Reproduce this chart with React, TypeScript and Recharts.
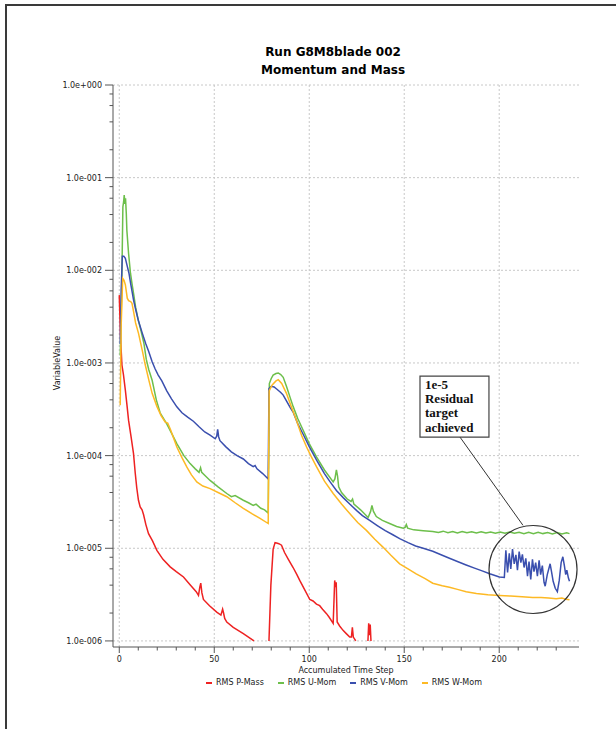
import { LineChart, Line, XAxis, YAxis, CartesianGrid, ReferenceDot, ReferenceArea, ReferenceLine } from 'recharts';

// x ticks every 10 steps, labelled every 50
const X_TICKS = [0, 10, 20, 30, 40, 50, 60, 70, 80, 90, 100, 110, 120, 130, 140, 150, 160, 170, 180, 190, 200, 210, 220, 230];
const X_GRID = [0, 50, 100, 150, 200];
const Y_MAJOR = [1e-6, 1e-5, 1e-4, 1e-3, 1e-2, 1e-1, 1];
const Y_TICKS = [
  1e-6, 2e-6, 4e-6, 6e-6, 8e-6, 1e-5, 2e-5, 4e-5, 6e-5, 8e-5, 1e-4, 2e-4, 4e-4, 6e-4, 8e-4,
  1e-3, 2e-3, 4e-3, 6e-3, 8e-3, 1e-2, 2e-2, 4e-2, 6e-2, 8e-2, 1e-1, 2e-1, 4e-1, 6e-1, 8e-1, 1,
];

const P_MASS_X = [
  0, 0.6, 1.4, 2.2, 3.2, 4.0, 4.9, 6.2, 7.5, 8.4, 9.2, 10.1, 11.0, 12.0, 12.8, 14.0, 15.4, 17.5, 19.8, 23.0,
  26.8, 30.0, 33.8, 37.5, 40.5, 41.7, 42.4, 42.9, 43.5, 44.3, 47.5, 51.3, 53.5, 54.4, 54.9, 55.5, 56.6, 60.0,
  65.3, 68.0, 70.9, 75, 78.8, 79.8, 81.0, 82.0, 82.8, 84.0, 85.4, 87.0, 89.0, 91.5, 93.5, 95.0, 97.5, 100.3,
  102.0, 103.8, 105.5, 107.0, 109.1, 110.5, 112.6, 113.1, 113.4, 113.8, 114.2, 114.7, 116.0, 117.8, 119.5,
  121.3, 122.2, 122.7, 123.2, 124.5, 128, 130.9, 131.3, 131.7, 132.1, 132.5,
];
const P_MASS = [
  5.4e-3, 2.0e-3, 9.5e-4, 7.5e-4, 5.1e-4, 3.6e-4, 2.4e-4, 1.6e-4, 1.05e-4, 6.5e-5, 4.5e-5, 3.3e-5, 2.8e-5, 2.6e-5,
  2.3e-5, 1.8e-5, 1.44e-5, 1.2e-5, 9.5e-6, 7.6e-6, 6.3e-6, 5.6e-6, 4.9e-6, 4.0e-6, 3.4e-6, 3.1e-6, 3.8e-6, 4.2e-6,
  3.3e-6, 2.8e-6, 2.4e-6, 2.05e-6, 1.9e-6, 2.2e-6, 2.0e-6, 1.75e-6, 1.6e-6, 1.4e-6, 1.2e-6, 1.1e-6, 1.0e-6, null,
  1.0e-6, 4.0e-6, 9.8e-6, 1.15e-5, 1.14e-5, 1.12e-5, 1.08e-5, 9.0e-6, 7.6e-6, 6.2e-6, 5.2e-6, 4.5e-6, 3.6e-6,
  2.8e-6, 2.7e-6, 2.5e-6, 2.4e-6, 2.2e-6, 1.97e-6, 1.8e-6, 1.55e-6, 3.0e-6, 4.5e-6, 3.8e-6, 4.3e-6, 1.6e-6,
  1.45e-6, 1.3e-6, 1.2e-6, 1.1e-6, 1.1e-6, 1.4e-6, 1.1e-6, 1.0e-6, null, 1.0e-6, 1.55e-6, 1.15e-6, 1.5e-6, 1.0e-6,
];

const U_MOM_X = [
  0.5, 1.2, 1.9, 2.3, 2.6, 3.0, 3.3, 3.7, 4.0, 4.9, 5.9, 6.7, 7.6, 8.6, 10.0, 11.5, 13.0, 14.2, 15.5, 17.3, 19.5,
  21.5, 25.0, 27.5, 30.3, 34.0, 37.3, 40.0, 42.0, 42.8, 43.4, 45.5, 47.8, 52.0, 56.6, 59.0, 61.0, 65.3, 68.0,
  70.5, 72.0, 74.5, 76.5, 78.4, 79.0, 80.0, 81.0, 82.5, 83.7, 85.0, 86.3, 88.0, 90.0, 91.5, 94.0, 96.8, 100.0,
  103.8, 108.0, 112.6, 113.5, 114.3, 114.9, 115.5, 117.0, 120.0, 122.0, 122.8, 123.5, 127.0, 131.0, 132.3, 133.0,
  133.8, 135.3, 138.5, 142.3, 146.0, 149.5, 150.5, 151.1, 151.8, 155.0, 160.0, 165.0, 168, 170.5, 173, 175.5,
  178, 180.5, 183, 185.5, 188, 190.5, 193, 195.5, 198, 200.5, 203, 205.5, 208, 210.5, 213, 215.5, 218, 220.5,
  223, 225.5, 228, 230.5, 233, 235.5, 237,
];
const U_MOM = [
  1.2e-3, 5.0e-3, 4.85e-2, 5.5e-2, 6.5e-2, 5.2e-2, 6.0e-2, 4.1e-2, 2.7e-2, 1.52e-2, 9.3e-3, 7.2e-3, 5.5e-3, 4.0e-3,
  2.9e-3, 2.2e-3, 1.62e-3, 1.1e-3, 8.5e-4, 6.5e-4, 4.0e-4, 2.9e-4, 2.2e-4, 1.75e-4, 1.35e-4, 1.0e-4, 8.2e-5, 7.2e-5,
  6.6e-5, 7.4e-5, 6.6e-5, 6.0e-5, 5.4e-5, 4.6e-5, 3.9e-5, 3.6e-5, 3.7e-5, 3.3e-5, 3.1e-5, 2.9e-5, 3.0e-5, 2.7e-5,
  2.6e-5, 2.4e-5, 6.0e-4, 6.8e-4, 7.4e-4, 7.7e-4, 7.8e-4, 7.5e-4, 7.0e-4, 5.6e-4, 4.2e-4, 3.4e-4, 2.5e-4, 1.88e-4,
  1.35e-4, 9.7e-5, 7.0e-5, 5.2e-5, 5.6e-5, 7.0e-5, 6.0e-5, 4.6e-5, 4.0e-5, 3.4e-5, 3.2e-5, 3.4e-5, 3.0e-5, 2.6e-5,
  2.15e-5, 2.5e-5, 2.9e-5, 2.5e-5, 2.2e-5, 2.0e-5, 1.85e-5, 1.72e-5, 1.65e-5, 1.68e-5, 1.8e-5, 1.65e-5, 1.58e-5,
  1.55e-5, 1.52e-5, 1.48e-5, 1.53e-5, 1.47e-5, 1.52e-5, 1.46e-5, 1.52e-5, 1.47e-5, 1.51e-5, 1.46e-5, 1.51e-5,
  1.46e-5, 1.5e-5, 1.45e-5, 1.5e-5, 1.45e-5, 1.5e-5, 1.45e-5, 1.49e-5, 1.44e-5, 1.49e-5, 1.44e-5, 1.49e-5,
  1.44e-5, 1.48e-5, 1.43e-5, 1.48e-5, 1.43e-5, 1.47e-5, 1.44e-5,
];

const V_MOM_X = [
  0.5, 1.0, 1.6, 2.4, 3.2, 4.0, 5.1, 6.0, 6.8, 7.5, 8.6, 10.0, 12.1, 14.0, 15.4, 17.3, 18.9, 20.5, 22.4, 25.0,
  27.5, 30.3, 33.0, 36.0, 39.0, 42.0, 45.0, 47.8, 50.5, 51.3, 51.8, 52.3, 53.0, 56.0, 59.0, 62.0, 65.3, 68.0,
  70.5, 71.5, 72.5, 75.5, 78.4, 78.8, 80.0, 81.5, 83.0, 85.0, 86.3, 88.0, 90.0, 91.5, 94.0, 96.8, 100.0, 103.8,
  108.0, 111.0, 114.3, 118.0, 121.3, 125.0, 128.0, 131.8, 136.0, 140.0, 144.0, 147.6, 152.0, 156.0, 160.0, 165.0,
  170.0, 173.8, 178.0, 182.6, 187.0, 191.0, 195.0, 200.1, 202.7, 203.5, 204.4, 205.3, 206.1, 207.0, 207.9,
  208.8, 209.6, 210.5, 211.4, 212.2, 213.1, 214.0, 214.9, 215.7, 216.6, 217.5, 218.3, 219.2, 220.1, 221.0,
  221.8, 222.7, 223.6, 224.2, 225.3, 226.8, 227.6, 228.4, 229.5, 230.6, 231.6, 232.6, 233.5, 234.3, 235.0,
  235.6, 236.4, 237.0,
];
const V_MOM = [
  1.6e-3, 6.0e-3, 1.42e-2, 1.42e-2, 1.35e-2, 1.15e-2, 9.3e-3, 7.2e-3, 5.8e-3, 4.8e-3, 3.8e-3, 2.9e-3, 2.1e-3,
  1.6e-3, 1.35e-3, 1.03e-3, 8.6e-4, 7.4e-4, 6.4e-4, 5.0e-4, 4.1e-4, 3.36e-4, 2.9e-4, 2.6e-4, 2.35e-4, 2.05e-4,
  1.8e-4, 1.66e-4, 1.52e-4, 1.62e-4, 1.92e-4, 1.6e-4, 1.45e-4, 1.25e-4, 1.1e-4, 1.0e-4, 9.2e-5, 8.2e-5, 7.6e-5,
  7.8e-5, 7.2e-5, 6.4e-5, 5.6e-5, 5.3e-4, 5.6e-4, 5.5e-4, 5.2e-4, 4.8e-4, 4.5e-4, 3.9e-4, 3.3e-4, 2.95e-4, 2.2e-4,
  1.7e-4, 1.25e-4, 9.0e-5, 6.4e-5, 5.2e-5, 4.2e-5, 3.5e-5, 3.0e-5, 2.55e-5, 2.25e-5, 2.0e-5, 1.75e-5, 1.55e-5,
  1.4e-5, 1.27e-5, 1.15e-5, 1.06e-5, 1.0e-5, 9.3e-6, 8.4e-6, 7.8e-6, 7.2e-6, 6.6e-6, 6.1e-6, 5.7e-6, 5.3e-6,
  4.9e-6, 4.85e-6, 9.5e-6, 5.5e-6, 8.8e-6, 6.0e-6, 9.8e-6, 6.8e-6, 8.5e-6, 5.8e-6, 9.2e-6, 7.0e-6, 8.6e-6,
  6.2e-6, 7.8e-6, 5.0e-6, 7.2e-6, 4.6e-6, 7.6e-6, 5.6e-6, 7.0e-6, 5.0e-6, 7.4e-6, 5.2e-6, 6.5e-6, 4.3e-6,
  3.9e-6, 5.2e-6, 6.8e-6, 5.5e-6, 4.4e-6, 3.7e-6, 3.4e-6, 4.5e-6, 7.0e-6, 8.1e-6, 6.5e-6, 5.2e-6, 5.8e-6,
  4.8e-6, 4.4e-6,
];

const W_MOM_X = [
  0.5, 1.0, 1.8, 2.5, 3.2, 4.2, 4.9, 6.0, 6.7, 7.5, 8.6, 10.1, 12.1, 13.7, 15.6, 17.3, 19.8, 22.0, 24.2, 25.5,
  27.0, 30.3, 33.0, 35.6, 38.0, 40.8, 44.0, 47.8, 52.0, 56.6, 61.0, 65.3, 70.0, 74.1, 78.4, 78.9, 80.5, 82.5,
  83.7, 85.5, 88.0, 90.5, 93.3, 96.0, 98.6, 101.0, 103.8, 108.0, 112.6, 117.0, 121.3, 125.5, 130.1, 134.5,
  138.8, 143.0, 147.6, 152.0, 156.3, 161.0, 165.0, 170.0, 173.8, 178.0, 182.6, 188.0, 194.0, 200.1, 206.0,
  212.0, 217.6, 222.0, 226.0, 230.0, 233.0, 235.0, 237.0,
];
const W_MOM = [
  3.5e-4, 2.5e-3, 8.2e-3, 7.8e-3, 7.0e-3, 5.0e-3, 4.7e-3, 4.6e-3, 4.4e-3, 3.6e-3, 2.7e-3, 2.1e-3, 1.37e-3, 9.5e-4,
  6.5e-4, 4.7e-4, 3.4e-4, 2.7e-4, 2.3e-4, 2.25e-4, 1.9e-4, 1.24e-4, 9.5e-5, 7.5e-5, 6.2e-5, 5.2e-5, 4.7e-5, 4.4e-5,
  4.0e-5, 3.6e-5, 3.1e-5, 2.7e-5, 2.35e-5, 2.1e-5, 1.85e-5, 5.0e-4, 5.8e-4, 6.4e-4, 6.6e-4, 6.0e-4, 4.7e-4,
  3.4e-4, 2.4e-4, 1.65e-4, 1.24e-4, 9.8e-5, 7.6e-5, 5.3e-5, 3.9e-5, 3.0e-5, 2.37e-5, 1.9e-5, 1.56e-5, 1.25e-5,
  1.03e-5, 8.4e-6, 6.8e-6, 6.0e-6, 5.3e-6, 4.7e-6, 4.2e-6, 3.95e-6, 3.8e-6, 3.6e-6, 3.4e-6, 3.25e-6, 3.15e-6,
  3.1e-6, 3.05e-6, 3.0e-6, 2.95e-6, 2.95e-6, 2.9e-6, 2.85e-6, 2.9e-6, 2.82e-6, 2.78e-6,
];

const SERIES = [
  { name: 'RMS P-Mass', color: '#ee2222', xs: P_MASS_X, vs: P_MASS },
  { name: 'RMS U-Mom', color: '#6dbf4b', xs: U_MOM_X, vs: U_MOM },
  { name: 'RMS V-Mom', color: '#3a4fae', xs: V_MOM_X, vs: V_MOM },
  { name: 'RMS W-Mom', color: '#fdb924', xs: W_MOM_X, vs: W_MOM },
];

const NOTE_LINES = ['1e-5', 'Residual', 'target', 'achieved'];

const FONT = '"DejaVu Sans", Verdana, sans-serif';
const AXIS_COLOR = '#555';

const fmtExp = (v: number) => {
  const e = Math.round(Math.log10(v));
  return `1.0e${e < 0 ? '-' : '+'}${String(Math.abs(e)).padStart(3, '0')}`;
};

const YTick = (props: any) => {
  const { x, y, payload } = props;
  const lg = Math.log10(payload.value);
  const major = Math.abs(lg - Math.round(lg)) < 1e-6;
  return (
    <g>
      <line x1={x - (major ? 8 : 3.5)} x2={x} y1={y} y2={y} stroke={AXIS_COLOR} />
      {major && (
        <text x={x - 11} y={y} dy={3} textAnchor="end" fontSize={8} fontFamily={FONT} fill="#222">
          {fmtExp(payload.value)}
        </text>
      )}
    </g>
  );
};

const XTick = (props: any) => {
  const { x, y, payload } = props;
  const major = payload.value % 50 === 0;
  return (
    <g>
      <line x1={x} x2={x} y1={y} y2={y + (major ? 6 : 3.5)} stroke={AXIS_COLOR} />
      {major && (
        <text x={x} y={y + 15} textAnchor="middle" fontSize={8} fontFamily={FONT} fill="#222">
          {payload.value}
        </text>
      )}
    </g>
  );
};

const NoteText = (props: any) => {
  const { viewBox } = props;
  if (!viewBox) return null;
  return (
    <text fontFamily='"Liberation Serif", "Times New Roman", serif' fontWeight="bold" fontSize={13} fill="#111">
      {NOTE_LINES.map((t, i) => (
        <tspan key={t} x={viewBox.x + 5} y={viewBox.y + 12.5 + i * 14.4}>
          {t}
        </tspan>
      ))}
    </text>
  );
};

export default function App() {
  return (
    <div style={{ position: 'absolute', left: 0, top: 0, width: 616, height: 729, background: '#fff', overflow: 'hidden' }}>
      <div
        style={{
          position: 'absolute',
          left: 5,
          top: 4,
          right: -4,
          bottom: -4,
          borderTop: '2px solid #3a3a3a',
          borderLeft: '2px solid #3a3a3a',
        }}
      />
      <div
        style={{
          position: 'absolute',
          left: 233,
          width: 200,
          top: 43,
          textAlign: 'center',
          fontFamily: FONT,
          fontWeight: 'bold',
          fontSize: 12,
          lineHeight: '18px',
          color: '#000',
        }}
      >
        Run G8M8blade 002
        <br />
        Momentum and Mass
      </div>
      <div
        style={{
          position: 'absolute',
          left: 57,
          top: 363,
          transform: 'translate(-50%, -50%) rotate(-90deg)',
          fontFamily: FONT,
          fontSize: 8,
          color: '#222',
          whiteSpace: 'nowrap',
        }}
      >
        VariableValue
      </div>
      <LineChart
        width={616}
        height={729}
        margin={{ top: 85, right: 37, left: 0, bottom: 52 }}
        style={{ position: 'absolute', left: 0, top: 0 }}
      >
        <CartesianGrid
          stroke="#c8c8c8"
          strokeDasharray="2 2"
          horizontalValues={Y_MAJOR}
          verticalValues={X_GRID}
        />
        <XAxis
          dataKey="x"
          type="number"
          domain={[-3.3, 242]}
          ticks={X_TICKS}
          allowDataOverflow
          height={30}
          tickSize={0}
          tickMargin={0}
          tickLine={false}
          axisLine={{ stroke: AXIS_COLOR }}
          tick={<XTick />}
          interval={0}
        />
        <YAxis
          type="number"
          scale="log"
          domain={[8.6e-7, 1]}
          ticks={Y_TICKS}
          allowDataOverflow
          width={113}
          tickSize={0}
          tickMargin={0}
          tickLine={false}
          axisLine={{ stroke: AXIS_COLOR }}
          tick={<YTick />}
          interval={0}
        />
        {SERIES.map((s) => (
          <Line
            key={s.name}
            name={s.name}
            data={s.xs.map((x, i) => ({ x, v: s.vs[i] }))}
            dataKey="v"
            type="linear"
            stroke={s.color}
            strokeWidth={1.5}
            dot={false}
            activeDot={false}
            isAnimationActive={false}
          />
        ))}
        <ReferenceArea
          x1={158.3}
          x2={194.6}
          y1={1.58e-4}
          y2={7.2e-4}
          fill="#fff"
          fillOpacity={1}
          stroke="#444"
          strokeWidth={1.2}
          label={<NoteText />}
        />
        <ReferenceLine
          segment={[
            { x: 179.4, y: 1.58e-4 },
            { x: 212.5, y: 1.77e-5 },
          ]}
          stroke="#333"
          strokeWidth={1}
        />
        <ReferenceDot x={217.8} y={5.9e-6} r={44} fill="none" stroke="#333" strokeWidth={1.2} />
      </LineChart>
      <div
        style={{
          position: 'absolute',
          left: 113,
          width: 466,
          top: 666,
          textAlign: 'center',
          fontFamily: FONT,
          fontSize: 8,
          color: '#222',
        }}
      >
        Accumulated Time Step
      </div>
      <div
        style={{
          position: 'absolute',
          left: 109,
          width: 470,
          top: 678,
          display: 'flex',
          justifyContent: 'center',
          gap: 14,
          fontFamily: FONT,
          fontSize: 8,
          color: '#222',
        }}
      >
        {SERIES.map((s) => (
          <div key={s.name} style={{ display: 'flex', alignItems: 'center', gap: 4 }}>
            <span style={{ display: 'inline-block', width: 6, height: 2, background: s.color }} />
            <span>{s.name}</span>
          </div>
        ))}
      </div>
    </div>
  );
}
